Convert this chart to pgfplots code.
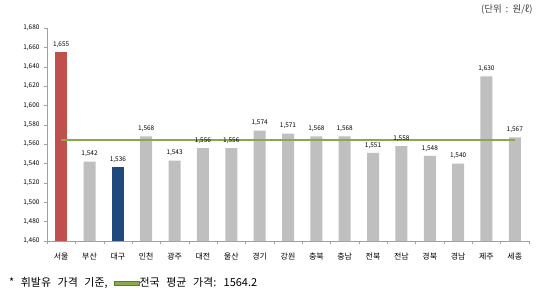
\documentclass[border=0pt]{standalone}
\usepackage{pgfplots}
\pgfplotsset{compat=1.18}
\usepackage{fontspec}
\setmainfont{Noto Sans CJK KR}
\definecolor{barred}{RGB}{192,80,77}
\definecolor{barblue}{RGB}{31,73,125}
\definecolor{bargray}{RGB}{191,191,191}
\definecolor{avggreen}{RGB}{137,170,75}
\definecolor{axgray}{RGB}{160,160,160}
\begin{document}
\begin{tikzpicture}
\path (0,0) rectangle (550bp,299bp);
\begin{axis}[
  at={(47bp,58bp)}, anchor=south west,
  scale only axis, width=482bp, height=213bp,
  xmin=-0.5, xmax=16.5, ymin=1460, ymax=1680,
  ytick={1460,1480,...,1680},
  xtick={0,...,16},
  xticklabels={서울,부산,대구,인천,광주,대전,울산,경기,강원,충북,충남,전북,전남,경북,경남,제주,세종},
  minor xtick={-0.5,0.5,...,16.5},
  major x tick style={draw=none},
  minor tick length=3bp,
  major tick length=3bp,
  tick align=outside,
  axis x line*=bottom, axis y line*=left,
  axis line style={axgray, line width=0.5pt},
  every tick/.style={axgray},
  /pgf/number format/1000 sep={,},
  /pgf/number format/assume math mode=true,
  y tick label style={font=\fontsize{6.5}{7}\selectfont, xshift=-1bp},
  x tick label style={font=\fontsize{8}{9}\selectfont, yshift=-5bp},
  nodes near coords style={font=\fontsize{6.5}{7}\selectfont, text=black, yshift=1bp},
  clip=false,
]
\addplot[ybar, bar width=12bp, fill=bargray, draw=none, nodes near coords]
  coordinates {(1,1542) (3,1568) (4,1543) (5,1556) (6,1556) (7,1574) (8,1571) (9,1568) (10,1568) (11,1551) (12,1558) (13,1548) (14,1540) (15,1630) (16,1567)};
\addplot[ybar, bar width=12bp, fill=barred, draw=none, nodes near coords]
  coordinates {(0,1655)};
\addplot[ybar, bar width=12bp, fill=barblue, draw=none, nodes near coords]
  coordinates {(2,1536)};
\addplot[avggreen, line width=1.8bp, mark=none] coordinates {(0,1564.2) (16,1564.2)};
\end{axis}
\node[anchor=east, font=\fontsize{9.5}{11}\selectfont, text=black!75] at (536bp,289bp) {(단위 \,:\, 원/ℓ)};
\node[anchor=west, font=\fontsize{11}{12}\selectfont, inner sep=0pt] at (9bp,16bp) {\spaceskip=0.6em * 휘발유 가격 기준, \tikz[baseline=-0.6ex]\draw[draw=avggreen!70!black, fill=avggreen, line width=0.4pt] (0,-1.8bp) rectangle (25bp,1.8bp);전국 평균 가격: 1564.2};
\end{tikzpicture}
\end{document}
